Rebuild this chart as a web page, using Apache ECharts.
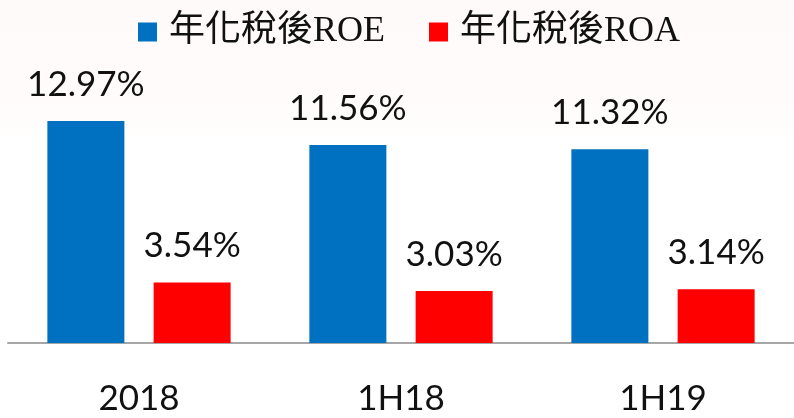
<!DOCTYPE html>
<html>
<head>
<meta charset="utf-8">
<script src="https://cdn.jsdelivr.net/npm/echarts@6/dist/echarts.min.js"></script>
<style>
    html, body { margin: 0; padding: 0; background: #fff; }
    #grafico { width: 794px; height: 418px; }
</style>
</head>
<body>
<div id="grafico"></div>
<script>
// dados
var periodos = ["2018", "1H18", "1H19"];
var valoresRoe = [12.97, 11.56, 11.32];
var valoresRoa = [3.54, 3.03, 3.14];
var nomesSeries = ["年化稅後ROE", "年化稅後ROA"];

var grafico = echarts.init(document.getElementById("grafico"));

var fonteNumeros = "Lato, 'Open Sans', sans-serif";

var rotulo = {
    show: true,
    position: "top",
    distance: 19,
    color: "#111",
    fontSize: 35,
    fontFamily: fonteNumeros,
    formatter: p => p.value.toFixed(2) + "%"
};

var option = {
    animation: false,
    backgroundColor: {
        type: "linear", x: 0, y: 0, x2: 0, y2: 1,
        colorStops: [
            { offset: 0, color: "#fefaf9" },
            { offset: 0.16, color: "#fefbfa" },
            { offset: 0.3, color: "#fffdfc" },
            { offset: 0.34, color: "#ffffff" },
            { offset: 1, color: "#ffffff" }
        ]
    },
    legend: {
        left: 133,
        top: 9,
        icon: "rect",
        itemWidth: 19,
        itemHeight: 19,
        itemGap: 44,
        textStyle: {
            fontSize: 36,
            color: "#111",
            fontFamily: "'Liberation Serif', 'Noto Sans CJK TC', serif",
            padding: [0, 0, 0, 7]
        },
        data: nomesSeries
    },
    grid: {
        left: 8,
        width: 792,
        top: 69,
        bottom: 75
    },
    xAxis: {
        type: "category",
        data: periodos,
        axisLine: { lineStyle: { color: "#a6a6a6", width: 2 } },
        axisTick: { show: false },
        axisLabel: {
            margin: 38,
            fontSize: 35,
            color: "#111",
            fontFamily: fonteNumeros
        }
    },
    yAxis: {
        type: "value",
        min: 0,
        max: 16,
        show: false,
        splitLine: { show: false }
    },
    series: [
        {
            name: nomesSeries[0],
            type: "bar",
            data: valoresRoe,
            barWidth: 77,
            barGap: "38%",
            itemStyle: { color: "#0070c0" },
            label: rotulo
        },
        {
            name: nomesSeries[1],
            type: "bar",
            data: valoresRoa,
            barWidth: 77,
            barGap: "38%",
            itemStyle: { color: "#ff0000" },
            label: rotulo
        }
    ]
};

grafico.setOption(option);
</script>
</body>
</html>
